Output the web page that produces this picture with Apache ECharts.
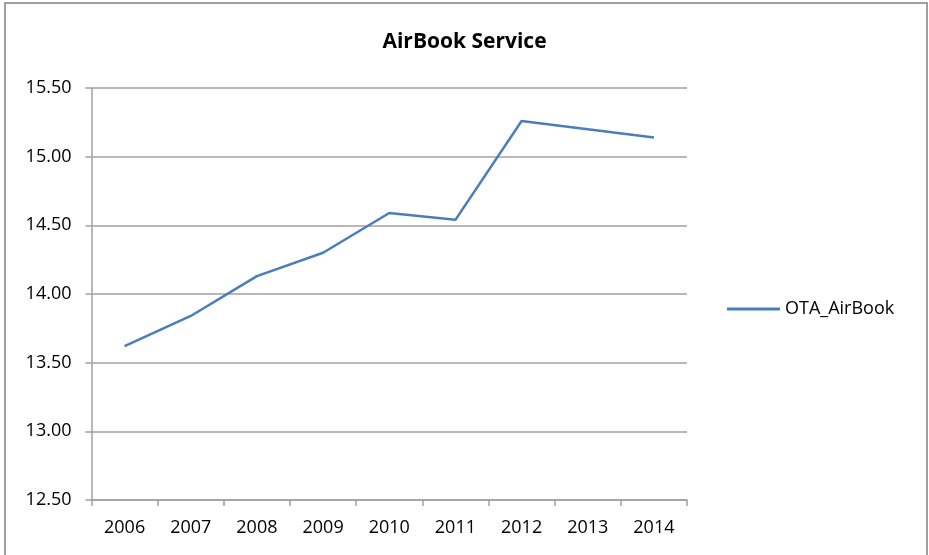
<!DOCTYPE html>
<html>
<head>
<meta charset="utf-8">
<script src="https://cdn.jsdelivr.net/npm/echarts@6/dist/echarts.min.js"></script>
<style>
  html, body {margin: 0; padding: 0; background: #fff;}
  #chart {width: 929px; height: 555px;}
</style>
</head>
<body>
<div id="chart"></div>
<script>
const years = ['2006', '2007', '2008', '2009', '2010', '2011', '2012', '2013', '2014'];
const airBook = [13.62, 13.84, 14.13, 14.30, 14.59, 14.54, 15.26, 15.20, 15.14];
const seriesName = 'OTA_AirBook';
const titleText = 'AirBook Service';

const font = '"Open Sans", "Liberation Sans", sans-serif';
const gray = '#a0a0a0';
const blue = '#4a7ebb';

const myChart = echarts.init(document.getElementById('chart'));
myChart.setOption({
  animation: false,
  title: {
    text: titleText,
    left: 'center',
    top: 32,
    padding: 0,
    textStyle: {fontFamily: font, fontSize: 21, fontWeight: 'bold', color: '#000'}
  },
  graphic: [{
    type: 'rect',
    shape: {x: 5, y: 3, width: 922, height: 570},
    style: {fill: 'none', stroke: gray, lineWidth: 2},
    silent: true
  }],
  legend: {
    data: [{name: seriesName, icon: 'rect'}],
    left: 727,
    top: 300,
    padding: 0,
    itemWidth: 53,
    itemHeight: 3,
    itemGap: 6,
    itemStyle: {color: blue},
    textStyle: {fontFamily: font, fontSize: 18, color: '#000'}
  },
  grid: {left: 91.5, right: 242, top: 88, bottom: 55, containLabel: false},
  xAxis: {
    type: 'category',
    data: years,
    boundaryGap: true,
    axisLine: {lineStyle: {color: gray, width: 1.5}},
    axisTick: {show: true, length: 6, lineStyle: {color: gray, width: 1.5}},
    axisLabel: {fontFamily: font, fontSize: 18, color: '#000', margin: 19},
    splitLine: {show: false}
  },
  yAxis: {
    type: 'value',
    min: 12.5,
    max: 15.5,
    interval: 0.5,
    axisLine: {show: true, lineStyle: {color: gray, width: 1.5}},
    axisTick: {show: true, length: 6, lineStyle: {color: gray, width: 1.5}},
    axisLabel: {
      fontFamily: font, fontSize: 18, color: '#000', margin: 20,
      formatter(val) {
        return val.toFixed(2);
      }
    },
    splitLine: {show: true, lineStyle: {color: gray, width: 1.5}}
  },
  series: [{
    name: seriesName,
    type: 'line',
    data: airBook,
    symbol: 'none',
    lineStyle: {color: blue, width: 2.5},
    itemStyle: {color: blue}
  }]
});
</script>
</body>
</html>
